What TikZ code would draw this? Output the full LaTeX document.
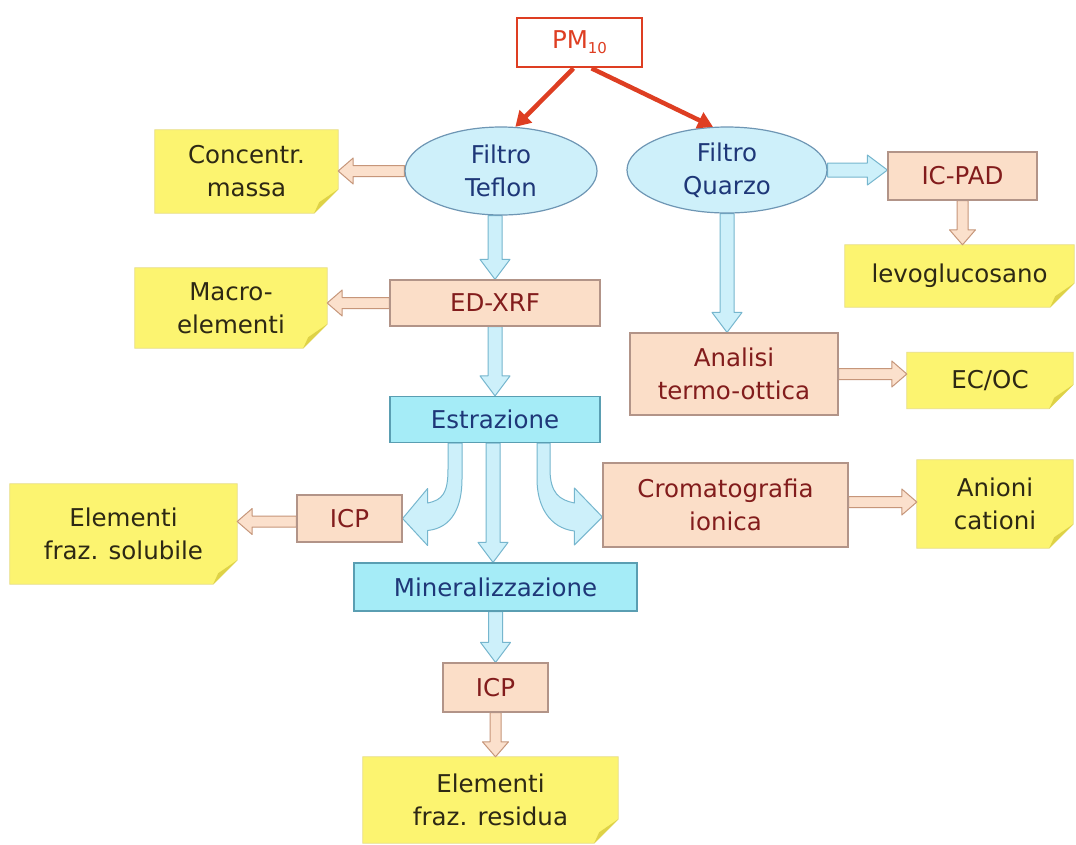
\documentclass[tikz,border=0pt]{standalone}
\usepackage{fontspec}
\setmainfont{DejaVu Sans}
\usetikzlibrary{calc,backgrounds,arrows.meta,shapes.geometric}
\definecolor{notefill}{RGB}{252,244,112}
\definecolor{notefoldc}{RGB}{222,210,70}
\definecolor{noteline}{RGB}{232,222,130}
\definecolor{notetext}{RGB}{45,40,20}
\definecolor{peachfill}{RGB}{251,222,200}
\definecolor{peachline}{RGB}{178,148,136}
\definecolor{peachtext}{RGB}{130,28,28}
\definecolor{cyanfill}{RGB}{165,236,247}
\definecolor{cyanline}{RGB}{90,158,178}
\definecolor{ellfill}{RGB}{206,240,250}
\definecolor{ellline}{RGB}{110,150,180}
\definecolor{bluetext}{RGB}{30,55,120}
\definecolor{pmred}{RGB}{222,62,34}
\definecolor{arrblue}{RGB}{205,240,250}
\definecolor{arrblueline}{RGB}{118,182,206}
\definecolor{arrpeach}{RGB}{251,224,204}
\definecolor{arrpeachline}{RGB}{198,150,122}
\pgfdeclarelayer{bgzero}
\pgfsetlayers{bgzero,background,main}
\tikzset{
  note/.style={inner sep=0pt, align=center, text=notetext},
  notebase/.style={fill=notefill, draw=noteline, line width=0.8pt},
  notefold/.style={fill=notefoldc},
  peachbox/.style={rectangle, draw=peachline, fill=peachfill, line width=1.2pt, text=peachtext, inner sep=0pt, align=center},
  cyanbox/.style={rectangle, draw=cyanline, fill=cyanfill, line width=1.2pt, text=bluetext, inner sep=0pt, align=center},
  ellnode/.style={ellipse, draw=ellline, fill=ellfill, line width=1.2pt, text=bluetext, inner sep=0pt, align=center},
  pmbox/.style={rectangle, draw=pmred, fill=white, line width=2.6pt, text=pmred, inner sep=0pt},
  redarrow/.style={draw=pmred, line width=4.5pt, -{Triangle[length=15pt,width=17pt]}},
  blkarrow/.style n args={3}{to path={let \p1=(\tikztostart), \p2=(\tikztotarget),
      \n1={atan2(\y2-\y1,\x2-\x1)}, \n2={veclen(\x2-\x1,\y2-\y1)} in
      [shift={(\p1)}, rotate=\n1]
      (0pt,#1pt) -- ({\n2-#3pt},#1pt) -- ({\n2-#3pt},#2pt) -- ({\n2+0pt},0pt)
      -- ({\n2-#3pt},-#2pt) -- ({\n2-#3pt},-#1pt) -- (0pt,-#1pt) -- cycle}},
  bluearr/.style={fill=arrblue, draw=arrblueline, line width=1pt, line join=round},
  peacharr/.style={fill=arrpeach, draw=arrpeachline, line width=1pt, line join=round},
  bluev/.style={bluearr, blkarrow={7}{15}{20}},
  peachh/.style={peacharr, blkarrow={5.5}{13}{15}},
}
\newcommand\notebg[1]{%
  \begin{scope}[on background layer]
    \filldraw[notebase] (#1.north west) -- (#1.north east) -- ($(#1.south east)+(0,-24)$)
      -- ($(#1.south east)+(-24,0)$) -- (#1.south west) -- cycle;
    \fill[notefold] ($(#1.south east)+(0,-24)$) -- ($(#1.south east)+(-24,0)$)
      -- ($(#1.south east)+(-19,-11)$) -- cycle;
  \end{scope}}
\begin{document}
\begin{tikzpicture}[x=1pt,y=-1pt,font=\fontsize{24.5}{33}\selectfont]
\begin{pgfonlayer}{bgzero}
  \fill[white] (0,0) rectangle (1076,844);
\end{pgfonlayer}
\useasboundingbox (0,0) rectangle (1076,844);

% main nodes
\node[pmbox, minimum width=125pt, minimum height=49pt] (pm) at (579.5,42.5)
  {PM{\fontsize{15}{15}\selectfont\raisebox{-5pt}{10}}};
\node[ellnode, minimum width=192pt, minimum height=88pt] (tef) at (501,171) {Filtro\\Teflon};
\node[ellnode, minimum width=200pt, minimum height=86pt] (qua) at (727,170) {Filtro\\Quarzo};
\node[note, minimum width=183pt, minimum height=83pt] (conc) at (246.5,171.5) {Concentr.\\massa};
\node[peachbox, minimum width=210pt, minimum height=46pt] (edx) at (495,303) {ED-XRF};
\node[note, minimum width=192pt, minimum height=80pt] (macro) at (231,308) {Macro-\\elementi};
\node[cyanbox, minimum width=210pt, minimum height=46pt] (estr) at (495,419.5) {Estrazione};
\node[peachbox, minimum width=105pt, minimum height=47pt] (icpa) at (349.5,518.5) {ICP};
\node[note, minimum width=227pt, minimum height=100pt] (sol) at (123.5,534) {Elementi\\fraz. solubile};
\node[peachbox, minimum width=245pt, minimum height=84pt] (crom) at (725.5,505) {Cromatografia\\ionica};
\node[note, minimum width=156pt, minimum height=88pt] (anio) at (995,504) {Anioni\\cationi};
\node[peachbox, minimum width=149pt, minimum height=48pt] (icpad) at (962.5,176) {IC-PAD};
\node[note, minimum width=229pt, minimum height=62pt] (lev) at (959.5,276) {levoglucosano};
\node[peachbox, minimum width=208pt, minimum height=82pt] (ana) at (734,374) {Analisi\\termo-ottica};
\node[note, minimum width=166pt, minimum height=56pt] (ecoc) at (990,380.5) {EC/OC};
\node[cyanbox, minimum width=283pt, minimum height=48pt] (mine) at (495.5,587) {Mineralizzazione};
\node[peachbox, minimum width=105pt, minimum height=49pt] (icpb) at (495.5,687.5) {ICP};
\node[note, minimum width=255pt, minimum height=86pt] (res) at (490.5,800) {Elementi\\fraz. residua};

\notebg{conc}\notebg{macro}\notebg{sol}\notebg{anio}\notebg{lev}\notebg{ecoc}\notebg{res}

% red arrows
\draw[redarrow] ($(pm.south)+(-6,0)$) -- (tef.72);
\draw[redarrow] ($(pm.south)+(12,0)$) -- (qua.108);

% hollow arrows
\begin{scope}[on background layer]
\draw[peachh] (tef.west) to (conc.east |- tef.west);
\draw[bluev] (edx.north |- tef.south) to (edx.north);
\draw[peachh] (edx.west) to (macro.east |- edx.west);
\draw[bluev] (edx.south) to (estr.north);
\draw[bluev] ($(estr.south)+(-2,0)$) to ($(mine.north)+(-2.5,0)$);
\draw[peachh] ($(icpa.west)+(0,3)$) to ($(sol.east |- icpa.west)+(0,3)$);
\draw[bluev] (mine.south) to (icpb.north);
\draw[peachh] (icpb.south) to (icpb.south |- res.north);
\draw[bluev] (qua.east) to (icpad.west |- qua.east);
\draw[peachh] (icpad.south) to (icpad.south |- lev.north);
\draw[bluev] (qua.south) to (qua.south |- ana.north);
\draw[peachh] (ana.east) to (ecoc.west |- ana.east);
\draw[peachh] ($(crom.east)+(0,-3)$) to ($(anio.west |- crom.east)+(0,-3)$);
% curved arrow to left ICP
\draw[bluearr] ($(estr.south)+(-47,0)$) -- ($(estr.south)+(-47,26)$)
  .. controls ($(estr.south)+(-47,50)$) and ($(icpa.east)+(40,-18.5)$) .. ($(icpa.east)+(25,-15.5)$)
  -- ($(icpa.east)+(25,-30)$) -- (icpa.east) -- ($(icpa.east)+(25,27)$) -- ($(icpa.east)+(25,12)$)
  .. controls ($(icpa.east)+(50,9.5)$) and ($(estr.south)+(-33,63)$) .. ($(estr.south)+(-33,36)$)
  -- ($(estr.south)+(-33,0)$) -- cycle;
% curved arrow to Cromatografia
\coordinate (ct) at ($(crom.west)+(0,12)$);
\draw[bluearr] ($(estr.south)+(55,0)$) -- ($(estr.south)+(55,26)$)
  .. controls ($(estr.south)+(55,50)$) and ($(ct)+(-43,-17)$) .. ($(ct)+(-28,-14)$)
  -- ($(ct)+(-28,-29)$) -- (ct) -- ($(ct)+(-28,28)$) -- ($(ct)+(-28,14)$)
  .. controls ($(ct)+(-53,11)$) and ($(estr.south)+(42,63)$) .. ($(estr.south)+(42,36)$)
  -- ($(estr.south)+(42,0)$) -- cycle;
\end{scope}
\end{tikzpicture}
\end{document}
